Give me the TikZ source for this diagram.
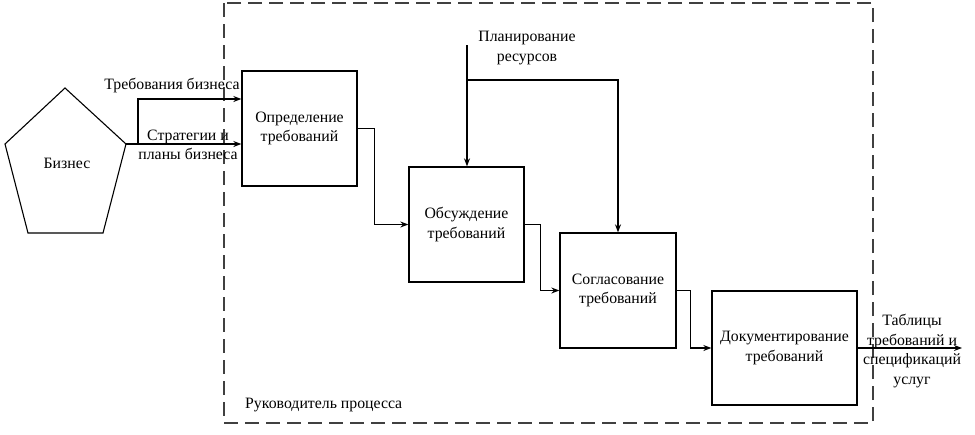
\documentclass[tikz,border=0pt]{standalone}
\usepackage{fontspec}
\setmainfont{Liberation Serif}
\usetikzlibrary{arrows.meta}
\begin{document}
\begin{tikzpicture}[x=1pt,y=-1pt,
  proc/.style={draw, line width=1.3pt, minimum height=115pt, align=center, inner sep=0pt},
  arr/.style={line width=1.2pt, -{Stealth[length=8pt,width=6pt]}},
  lbl/.style={align=center, inner sep=0pt, font=\fontsize{15.8}{19.5}\selectfont},
  every node/.append style={font=\fontsize{15.8}{19.5}\selectfont}]
\useasboundingbox (0,0) rectangle (975,434);
% frame
\draw[black!75, line width=1.1pt, dash pattern=on 14pt off 7pt] (224,3) rectangle (873,423);
% pentagon
\draw[line width=1.1pt] (65,88) -- (126,144) -- (103,233) -- (28,233) -- (5,144) -- cycle;
\node (biz) at (67,163) {Бизнес};
\coordinate (bR) at (126,144);
\coordinate (j1) at (138,144);
\coordinate (j1u) at (138,99);
% boxes
\node[proc, minimum width=115pt] (b1) at (299.5,128.5) {Определение\\требований};
\node[proc, minimum width=115pt] (b2) at (466.5,224.5) {Обсуждение\\требований};
\node[proc, minimum width=116pt] (b3) at (618,290.5) {Согласование\\требований};
\node[proc, minimum width=145pt, minimum height=114pt] (b4) at (784.5,348) {Документирование\\требований};
% inputs
\draw[arr] (bR) -- (bR -| b1.west);
\draw[arr] (j1) -- (j1u) -- (j1u -| b1.west);
\node[lbl] (t1) at (172,86) {Требования бизнеса};
\node[lbl] (t2) at (188,145) {Стратегии и\\планы бизнеса};
% flow
\draw[arr] (b1.east) -- ++(17,0) |- (b2.west);
\draw[arr] (b2.east) -- ++(16,0) |- (b3.west);
\draw[arr] (b3.east) -- ++(14,0) |- (b4.west);
\coordinate (out) at (962,348);
\draw[arr] (b4.east) -- (out);
\node[lbl] (t4) at (912,351) {Таблицы\\требований и\\спецификаций\\услуг};
% resources
\coordinate (p) at (467,45);
\coordinate (pj) at (467,80);
\draw[arr] (p) -- (p |- b2.north);
\draw[arr] (pj) -| (b3.north);
\node[lbl] (t3) at (527,48) {Планирование\\ресурсов};
% owner
\node[anchor=west, inner sep=0pt] (own) at (245,405) {Руководитель процесса};
\end{tikzpicture}
\end{document}
